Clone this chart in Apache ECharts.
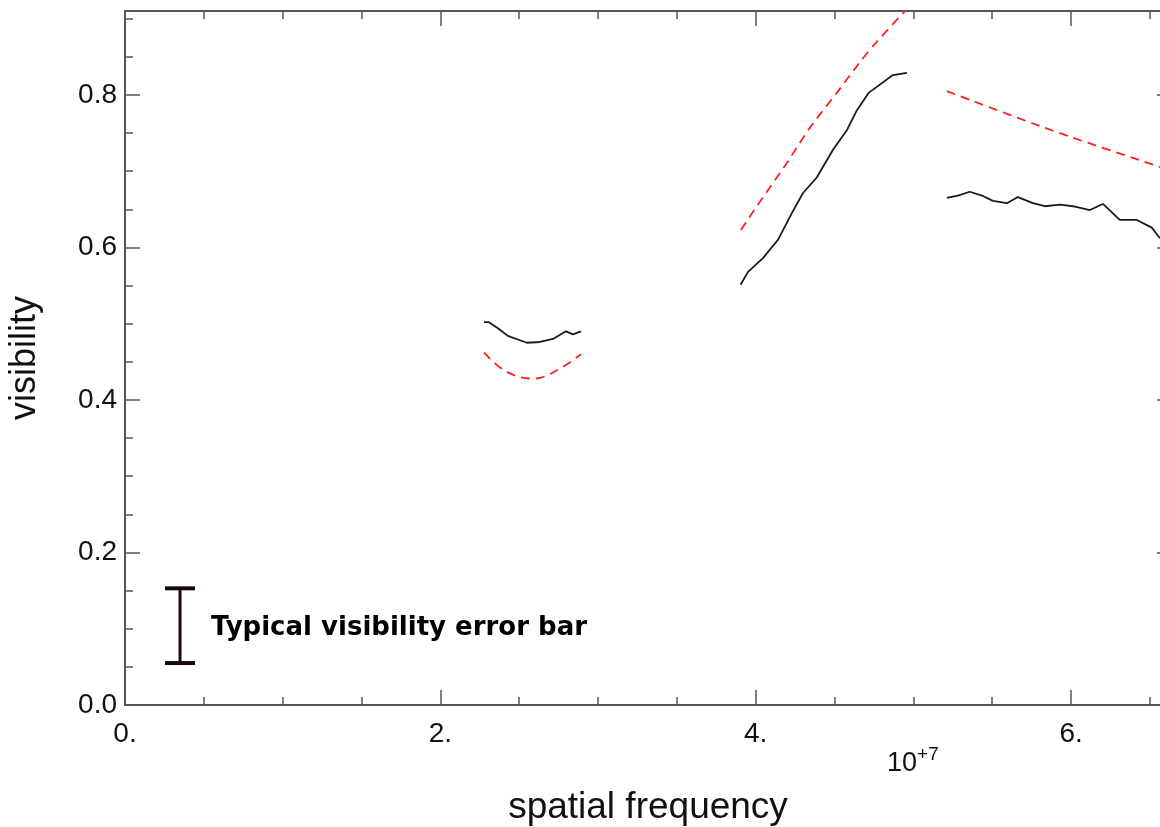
<!DOCTYPE html>
<html>
<head>
<meta charset="utf-8">
<script src="https://cdn.jsdelivr.net/npm/echarts@6/dist/echarts.min.js"></script>
<style>
html,body{margin:0;padding:0;background:#fff;overflow:hidden;}
#chart{width:1180px;height:827px;}
</style>
</head>
<body>
<div id="chart"></div>
<script>
// ---- data (x in units of 10^7) ----
var obs1X = [2.277, 2.308, 2.365, 2.428, 2.549, 2.632, 2.714, 2.797, 2.841, 2.892];
var obs1Y = [0.502, 0.502, 0.494, 0.484, 0.475, 0.476, 0.480, 0.490, 0.486, 0.490];
var mod1X = [2.277, 2.42, 2.59, 2.74, 2.892];
var mod1Y = [0.462, 0.437, 0.428, 0.439, 0.460];

var obs2X = [3.904, 3.951, 4.046, 4.141, 4.229, 4.299, 4.388, 4.490, 4.579, 4.642, 4.718, 4.870, 4.959];
var obs2Y = [0.551, 0.568, 0.586, 0.610, 0.645, 0.671, 0.692, 0.728, 0.754, 0.780, 0.803, 0.826, 0.829];
var mod2X = [3.906, 4.027, 4.198, 4.344, 4.515, 4.661, 4.756, 4.965];
var mod2Y = [0.623, 0.660, 0.711, 0.757, 0.803, 0.843, 0.867, 0.914];

var obs3X = [5.212, 5.282, 5.358, 5.434, 5.504, 5.593, 5.663, 5.758, 5.834, 5.929, 6.011, 6.119, 6.202, 6.309, 6.417, 6.512, 6.563];
var obs3Y = [0.665, 0.668, 0.673, 0.668, 0.661, 0.658, 0.666, 0.658, 0.654, 0.656, 0.654, 0.649, 0.657, 0.636, 0.636, 0.626, 0.612];
var mod3X = [5.212, 5.885, 6.600];
var mod3Y = [0.805, 0.753, 0.703];

var errBarX = [0.349];
var errBarLow = [0.055];
var errBarHigh = [0.153];

var xTicksMajor = 2, xTicksMinor = 0.5;
var yTicksMajor = 0.2, yTicksMinor = 0.05;
var XMIN = 0, XMAX = 6.64, YMIN = 0, YMAX = 0.91;

function pairs(xs, ys){ return xs.map(function(x,i){ return [x, ys[i]]; }); }

var axisColor = '#555';
var labelFont = {color:'#111', fontFamily:'Liberation Sans, Arial, sans-serif', fontSize:28};

function mkX(pos, interval, len, showLabel){
  return {
    type:'value', position:pos, min:XMIN, max:XMAX, interval:interval,
    axisLine:{show:true, onZero:false, lineStyle:{color:axisColor, width:2}},
    axisTick:{show:true, inside:true, length:len, lineStyle:{color:axisColor, width:1.5}},
    axisLabel:Object.assign({show:showLabel, margin:15, showMaxLabel:false,
      formatter:function(v){ return Math.abs(v/xTicksMajor - Math.round(v/xTicksMajor))<1e-6 ? Math.round(v).toFixed(0)+'.' : ''; }}, labelFont),
    splitLine:{show:false}, minorTick:{show:false}
  };
}
function mkY(pos, interval, len, showLabel){
  return {
    type:'value', position:pos, min:YMIN, max:YMAX, interval:interval,
    axisLine:{show:true, onZero:false, lineStyle:{color:axisColor, width:2}},
    axisTick:{show:true, inside:true, length:len, lineStyle:{color:axisColor, width:1.5}},
    axisLabel:Object.assign({show:showLabel, margin:8, showMaxLabel:false,
      formatter:function(v){ return Math.abs(v/yTicksMajor - Math.round(v/yTicksMajor))<1e-6 ? v.toFixed(1) : ''; }}, labelFont),
    splitLine:{show:false}, minorTick:{show:false}
  };
}

var blackStyle = {color:'#1a1a1a', width:1.8};
var redStyle = {color:'#ff1f1f', width:1.8, type:[9,6]};

function lineSeries(data, style, smooth){
  return {type:'line', data:data, symbol:'none', smooth:smooth, lineStyle:style, itemStyle:{color:style.color}, clip:true, z:3};
}

var chart = echarts.init(document.getElementById('chart'), null, {renderer:'canvas'});
chart.setOption({
  animation:false,
  backgroundColor:'#fff',
  grid:{left:125, top:11, right:8, bottom:122, containLabel:false, outerBoundsMode:'none'},
  xAxis:[
    mkX('bottom', xTicksMajor, 15, true),
    mkX('bottom', xTicksMinor, 8, false),
    mkX('top', xTicksMajor, 15, false),
    mkX('top', xTicksMinor, 8, false)
  ],
  yAxis:[
    mkY('left', yTicksMajor, 15, true),
    mkY('left', yTicksMinor, 8, false),
    mkY('right', yTicksMajor, 15, false),
    mkY('right', yTicksMinor, 8, false)
  ],
  series:[
    lineSeries(pairs(mod1X, mod1Y), redStyle, 0.4),
    lineSeries(pairs(mod2X, mod2Y), redStyle, 0.3),
    lineSeries(pairs(mod3X, mod3Y), redStyle, 0.3),
    lineSeries(pairs(obs1X, obs1Y), blackStyle, false),
    lineSeries(pairs(obs2X, obs2Y), blackStyle, false),
    lineSeries(pairs(obs3X, obs3Y), blackStyle, false),
    {
      type:'custom', z:4,
      data: errBarX.map(function(x,i){ return [x, errBarLow[i], errBarHigh[i]]; }),
      renderItem:function(params, api){
        var x = api.value(0), lo = api.value(1), hi = api.value(2);
        var pHi = api.coord([x, hi]), pLo = api.coord([x, lo]);
        var w = 15, col = '#1a0808';
        return {type:'group', children:[
          {type:'line', shape:{x1:pHi[0], y1:pHi[1], x2:pLo[0], y2:pLo[1]}, style:{stroke:col, lineWidth:3}},
          {type:'line', shape:{x1:pHi[0]-w, y1:pHi[1], x2:pHi[0]+w, y2:pHi[1]}, style:{stroke:col, lineWidth:4}},
          {type:'line', shape:{x1:pLo[0]-w, y1:pLo[1], x2:pLo[0]+w, y2:pLo[1]}, style:{stroke:col, lineWidth:4}}
        ]};
      }
    }
  ],
  graphic:[
    {type:'text', left:211, top:615, style:{text:'Typical visibility error bar', fill:'#000',
      font:'bold 26px "DejaVu Sans", sans-serif'}},
    {type:'text', x:648, y:808, style:{text:'spatial frequency', fill:'#111', align:'center', verticalAlign:'middle',
      font:'37px "Liberation Sans", Arial, sans-serif'}},
    {type:'text', x:25, y:358, rotation:Math.PI/2, style:{text:'visibility', fill:'#111', align:'center', verticalAlign:'middle',
      font:'36px "Liberation Sans", Arial, sans-serif'}},
    {type:'text', left:887, top:745, style:{text:'{b|10}{s|+7}', fill:'#111',
      rich:{b:{fontSize:27, fontFamily:'Liberation Sans, Arial, sans-serif', verticalAlign:'bottom', lineHeight:32, fill:'#111'},
            s:{fontSize:19, fontFamily:'Liberation Sans, Arial, sans-serif', verticalAlign:'top', lineHeight:32, padding:[0,0,12,0], fill:'#111'}}}}
  ]
});
</script>
</body>
</html>
